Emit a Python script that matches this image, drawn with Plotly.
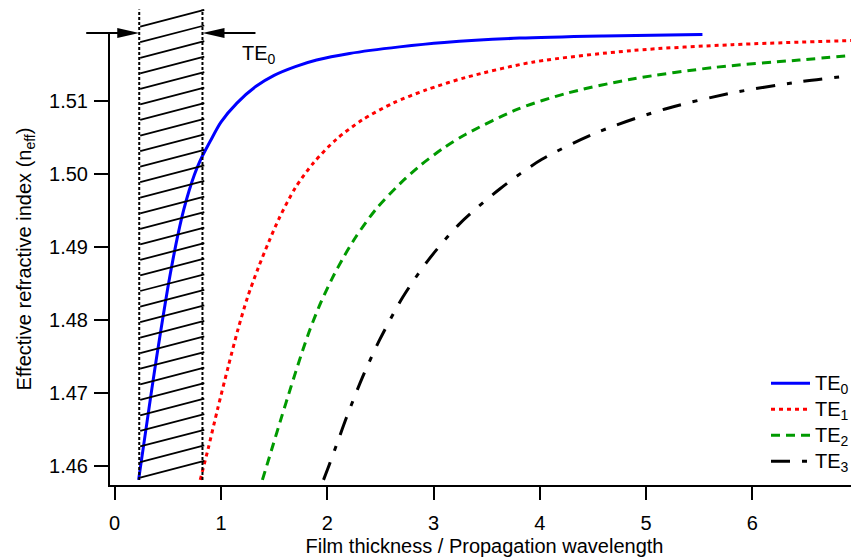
import plotly.graph_objects as go

# ---------------- data ----------------
te0_x = [0.225, 0.30, 0.35, 0.40, 0.45, 0.50, 0.55, 0.60, 0.65, 0.70, 0.75, 0.80, 0.90,
         1.00, 1.15, 1.33, 1.50, 1.70, 1.90, 2.21, 2.68, 3.10, 3.81, 4.60, 5.53]
te0_y = [1.4581, 1.4656, 1.4706, 1.4754, 1.4800, 1.4844, 1.4884, 1.4920, 1.4951, 1.4977,
         1.4999, 1.5017, 1.5045, 1.5071, 1.5097, 1.5120, 1.5135, 1.5147, 1.5156, 1.5165,
         1.5174, 1.5180, 1.5186, 1.5189, 1.5191]

te1_x = [0.805, 0.88, 0.97, 1.07, 1.16, 1.25, 1.35, 1.45, 1.55, 1.70, 1.87, 2.09, 2.33,
         2.62, 2.93, 3.30, 3.93, 4.87, 5.81, 7.00]
te1_y = [1.4581, 1.4624, 1.4679, 1.4737, 1.4787, 1.4831, 1.4871, 1.4907, 1.4940, 1.4981,
         1.5015, 1.5048, 1.5074, 1.5097, 1.5115, 1.5132, 1.5153, 1.5169, 1.5177, 1.5183]

te2_x = [1.39, 1.48, 1.57, 1.66, 1.75, 1.84, 1.94, 2.05, 2.15, 2.27, 2.46, 2.68, 2.87,
         3.10, 3.30, 3.78, 4.24, 4.87, 5.65, 6.44, 7.00]
te2_y = [1.4581, 1.4624, 1.4667, 1.4709, 1.4750, 1.4788, 1.4824, 1.4858, 1.4885, 1.4914,
         1.4952, 1.4986, 1.5011, 1.5036, 1.5054, 1.5088, 1.5110, 1.5130, 1.5146, 1.5156,
         1.5163]

te3_x = [1.965, 2.02, 2.10, 2.18, 2.33, 2.49, 2.71, 2.94, 3.24, 3.62, 4.02, 4.56, 5.18,
         5.81, 6.44, 6.89]
te3_y = [1.4581, 1.4602, 1.4634, 1.4666, 1.4721, 1.4772, 1.4831, 1.4880, 1.4931, 1.4979,
         1.5020, 1.5058, 1.5089, 1.5111, 1.5126, 1.5134]

mode_names = ["TE<sub>0</sub>", "TE<sub>1</sub>", "TE<sub>2</sub>", "TE<sub>3</sub>"]
x_ticks = [0, 1, 2, 3, 4, 5, 6, 7]
y_ticks = [1.46, 1.47, 1.48, 1.49, 1.50, 1.51]

X_RANGE = [-0.044, 7.003]
Y_RANGE = [1.4574, 1.5193]

# film-thickness limits of the hatched (single TE0 mode) region
cut_left, cut_right = 0.231, 0.826

FONT = "Liberation Sans, Arial, Helvetica, sans-serif"


def xpaper(v):
    return (v - X_RANGE[0]) / (X_RANGE[1] - X_RANGE[0])


fig = go.Figure()
styles = [("#0000ff", "solid"), ("#ff0000", "4px,4px"), ("#009a00", "9px,6px"),
          ("#000000", "19px,12px,5px,12px")]
for name, xs, ys, (color, dash) in zip(mode_names, [te0_x, te1_x, te2_x, te3_x],
                                       [te0_y, te1_y, te2_y, te3_y], styles):
    fig.add_trace(go.Scatter(
        x=xs, y=ys, mode="lines",
        name='<span style="font-size:20px">' + name + '</span>&nbsp;',
        line=dict(color=color, width=3, dash=dash, shape="spline", smoothing=0.8)))

shapes = []
# dotted vertical boundaries
for xv in (cut_left, cut_right):
    shapes.append(dict(type="line", xref="x", yref="paper", x0=xv, x1=xv, y0=0.011, y1=1.052,
                       line=dict(color="black", width=2, dash="3px,2px")))
# hatch lines
hatch_top, hatch_step, hatch_rise = 1.014, 0.0344, 0.037
for i in range(30):
    y0 = hatch_top - i * hatch_step
    shapes.append(dict(type="line", xref="x", yref="paper", x0=0.24, x1=0.843,
                       y0=y0, y1=y0 + hatch_rise, line=dict(color="black", width=1.8)))
# arrows pointing at the two limits
for xv, sgn in ((cut_left, -1), (cut_right, 1)):
    shapes.append(dict(type="line", xref="paper", yref="paper", xsizemode="pixel",
                       xanchor=xpaper(xv), x0=sgn * 53, x1=sgn * 20, y0=1.0, y1=1.0,
                       line=dict(color="black", width=2)))
    shapes.append(dict(type="path", xref="paper", yref="paper", xsizemode="pixel",
                       ysizemode="pixel", xanchor=xpaper(xv), yanchor=1.0,
                       path=f"M{sgn*22},-5 L0,0 L{sgn*22},5 Z",
                       fillcolor="black", line=dict(width=0)))

annotations = [
    dict(x=1.177, y=1.5163, xref="x", yref="y", text="TE<sub>0</sub>", showarrow=False,
         xanchor="left", yanchor="middle", font=dict(size=20, color="black", family=FONT)),
]

axis_common = dict(showline=True, linewidth=2, linecolor="black", ticks="outside",
                   tickwidth=2, tickcolor="black", showgrid=False, zeroline=False,
                   automargin=False, tickfont=dict(size=20, color="black", family=FONT),
                   mirror=False)

fig.update_layout(
    width=851, height=550,
    margin=dict(l=102, r=0, t=25, b=73),
    template="none",
    paper_bgcolor="white", plot_bgcolor="white",
    font=dict(family=FONT, size=20, color="black"),
    xaxis=dict(range=X_RANGE, tickvals=x_ticks, ticklen=13, ticklabelstandoff=6,
               ticklabeloverflow="allow",
               title=dict(text="Film thickness / Propagation wavelength", standoff=6,
                          font=dict(size=20, family=FONT, color="black")),
               **axis_common),
    yaxis=dict(range=Y_RANGE, tickvals=y_ticks, tickformat=".2f", ticklen=14,
               ticklabelstandoff=2,
               title=dict(text="Effective refractive index (n<sub>eff</sub>)", standoff=12,
                          font=dict(size=20, family=FONT, color="black")),
               **axis_common),
    legend=dict(x=1.0, y=0.265, xanchor="right", yanchor="top", bgcolor="rgba(0,0,0,0)",
                font=dict(size=17.7, family=FONT, color="black"), itemwidth=39,
                borderwidth=0),
    showlegend=True,
    shapes=shapes,
    annotations=annotations,
)

fig.write_html("out.html")
